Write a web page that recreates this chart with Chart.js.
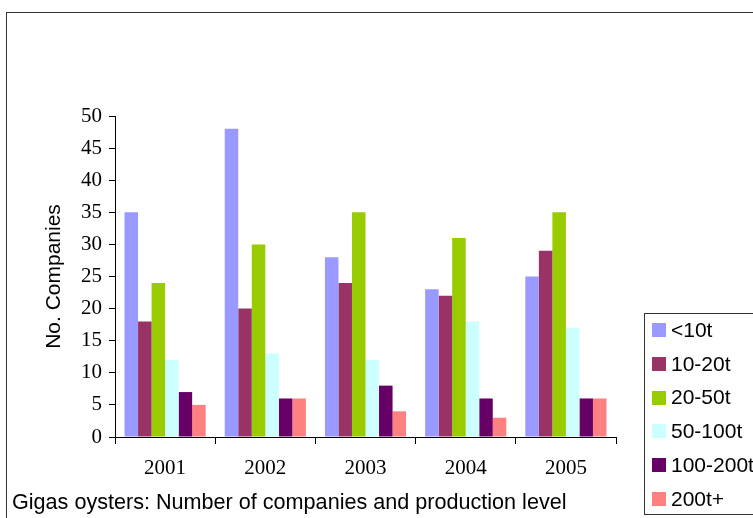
<!DOCTYPE html>
<html>
<head>
<meta charset="utf-8">
<title>Gigas oysters</title>
<script src="https://cdn.jsdelivr.net/npm/chart.js@4/dist/chart.umd.min.js"></script>
<style>
  html, body { margin: 0; padding: 0; background: #fff; }
  #myChart { display: block; }
</style>
</head>
<body>
<canvas id="myChart" width="753" height="518"></canvas>
<script>
"use strict";

// data
var years = ['2001', '2002', '2003', '2004', '2005'];
var seriesNames = ['<10t', '10-20t', '20-50t', '50-100t', '100-200t', '200t+'];
var under10 = [35, 48, 28, 23, 25];
var t10to20 = [18, 20, 24, 22, 29];
var t20to50 = [24, 30, 35, 31, 35];
var t50to100 = [12, 13, 12, 18, 17];
var t100to200 = [7, 6, 8, 6, 6];
var over200 = [5, 6, 4, 3, 6];
var yMin = 0, yMax = 50, yStep = 5;
var yTitle = 'No. Companies';
var caption = 'Gigas oysters: Number of companies and production level';

var seriesValues = [under10, t10to20, t20to50, t50to100, t100to200, over200];
var seriesColors = ['#9999FF', '#993366', '#99CC00', '#CCFFFF', '#660066', '#FF8080'];

var sansFont = '"Liberation Sans", Arial, sans-serif';
var serifFont = '"Liberation Serif", "Times New Roman", serif';

// frame, legend box, caption
var decoPlugin = {
    id: 'deco',
    beforeDraw: function (chart) {
        var ctx = chart.ctx;
        ctx.save();
        ctx.strokeStyle = '#333';
        ctx.lineWidth = 1;
        ctx.strokeRect(6.5, 12.5, 800, 600);
        ctx.restore();
    },
    afterDraw: function (chart) {
        var ctx = chart.ctx;
        ctx.save();
        // legend
        ctx.fillStyle = '#fff';
        ctx.fillRect(644, 313, 120, 201);
        ctx.strokeStyle = '#333';
        ctx.lineWidth = 1;
        ctx.strokeRect(644.5, 313.5, 130, 201);
        ctx.font = '21px ' + sansFont;
        ctx.textBaseline = 'middle';
        ctx.textAlign = 'left';
        chart.data.datasets.forEach(function (ds, i) {
            var y = 330 + i * 33.8;
            ctx.fillStyle = ds.backgroundColor;
            ctx.fillRect(652, Math.round(y - 7), 14, 14);
            ctx.fillStyle = '#000';
            ctx.fillText(ds.label, 671, y + 1);
        });
        // caption
        ctx.fillStyle = '#000';
        ctx.font = '21.6px ' + sansFont;
        ctx.fillText(caption, 12, 503);
        ctx.restore();
    }
};

function buildDatasets() {
    return seriesNames.map(function (name, i) {
        return {
            label: name,
            data: seriesValues[i],
            backgroundColor: seriesColors[i],
            borderWidth: 0,
            categoryPercentage: 0.81,
            barPercentage: 1.0
        };
    });
}

var ctx = document.getElementById('myChart');
var chart = new Chart(ctx, {
    type: 'bar',
    data: {
        labels: years,
        datasets: buildDatasets()
    },
    plugins: [decoPlugin],
    options: {
        responsive: false,
        animation: false,
        devicePixelRatio: 1,
        layout: {
            padding: { left: 38, top: 116, right: 137, bottom: 0 }
        },
        plugins: {
            legend: { display: false },
            tooltip: { enabled: false }
        },
        scales: {
            x: {
                offset: true,
                grid: {
                    offset: true,
                    drawOnChartArea: false,
                    drawTicks: true,
                    tickLength: 7,
                    color: '#000'
                },
                border: { color: '#000', width: 1 },
                ticks: {
                    color: '#000',
                    padding: 12,
                    font: { family: serifFont, size: 21 }
                },
                afterFit: function (scale) { scale.height = 81; }
            },
            y: {
                min: yMin,
                max: yMax,
                ticks: {
                    stepSize: yStep,
                    color: '#000',
                    padding: 7,
                    font: { family: serifFont, size: 21 }
                },
                grid: {
                    drawOnChartArea: false,
                    drawTicks: true,
                    tickLength: 6,
                    color: '#000'
                },
                border: { color: '#000', width: 1 },
                title: {
                    display: true,
                    text: yTitle,
                    color: '#000',
                    font: { family: sansFont, size: 21 }
                },
                afterFit: function (scale) { scale.width = 77; }
            }
        }
    }
});
</script>
</body>
</html>
